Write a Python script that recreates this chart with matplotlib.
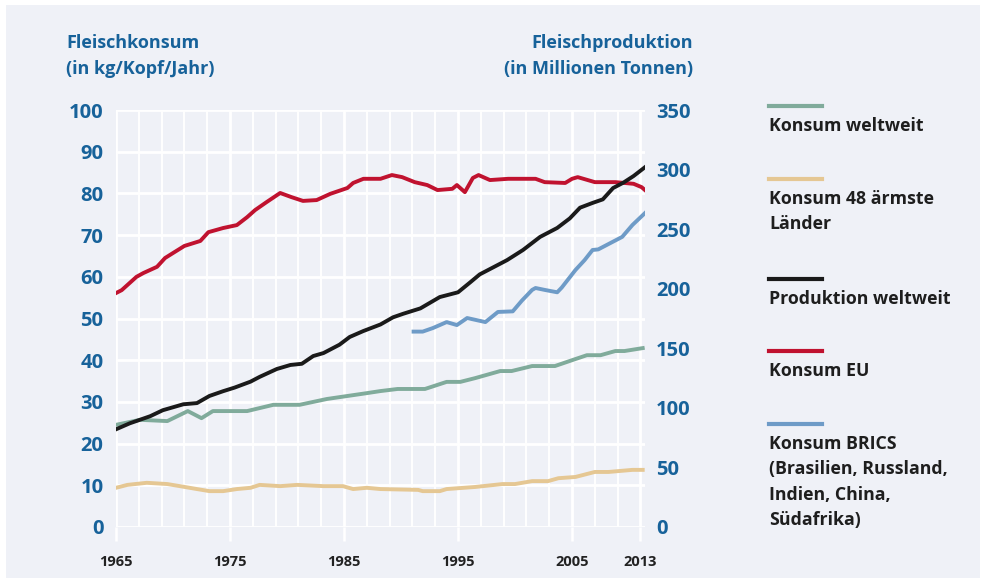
import matplotlib.pyplot as plt
from matplotlib.lines import Line2D
from matplotlib.patches import Rectangle

plt.rcParams['font.family'] = ['Open Sans', 'DejaVu Sans']

# Konsum EU (kg/Kopf/Jahr)
eu_years = [1965, 1965.5, 1966.8, 1967.4, 1968.6, 1969.3, 1970, 1971, 1972.4, 1973.1,
            1974.4, 1975.6, 1976.5, 1977.2, 1978.2, 1979.4, 1980.4, 1981.4, 1982.6, 1983.8,
            1985.3, 1985.8, 1986.7, 1988.2, 1989.2, 1990.1, 1991.2, 1992.3, 1993.2, 1994.5,
            1994.9, 1995.6, 1996.3, 1996.8, 1997.8, 1999.4, 2001.8, 2002.6, 2004.4, 2005,
            2005.5, 2006, 2007, 2008.8, 2010.4, 2011.1, 2011.4]
eu_values = [56.1, 56.8, 60.0, 60.9, 62.4, 64.5, 65.7, 67.4, 68.6, 70.7,
             71.7, 72.4, 74.3, 76.0, 77.9, 80.1, 79.1, 78.2, 78.4, 79.9,
             81.3, 82.5, 83.5, 83.5, 84.4, 83.9, 82.7, 82.0, 80.8, 81.1,
             82.0, 80.3, 83.7, 84.4, 83.2, 83.5, 83.5, 82.7, 82.5, 83.5,
             83.9, 83.5, 82.7, 82.7, 82.3, 81.5, 80.8]

# Produktion weltweit (Mio. t)
prod_years = [1965, 1966.2, 1968, 1969.1, 1970.9, 1972.1, 1973.2, 1974.4, 1975.4, 1976.8,
              1977.6, 1979.1, 1980.3, 1981.3, 1982.3, 1983.2, 1984.6, 1985.5, 1986.7, 1988.2,
              1989.3, 1990.2, 1991.7, 1993.4, 1995, 1996.1, 1996.9, 1998.1, 1999.3, 2000.7,
              2002.2, 2003.7, 2004.8, 2005.7, 2006.8, 2007.7, 2008.6, 2009.5, 2010.4, 2011.4]
prod_values = [82, 87, 93, 98, 103, 104, 110, 114, 117, 122,
               126, 132.6, 136, 137, 143.5, 146, 153, 159.5, 164.5, 170,
               176, 179, 183.5, 193, 197, 205.6, 212, 218, 224, 232.5,
               243.5, 251, 259, 268, 272, 275, 284.5, 289, 294.6, 302]

# Konsum BRICS (Mio. t, rechte Achse)
brics_years = [1991.1, 1991.9, 1992.8, 1994, 1994.9, 1995.8, 1997.4, 1998.5, 1999.8, 2000.6,
               2001.5, 2001.8, 2002.6, 2003.7, 2004.1, 2005.3, 2006.1, 2006.8, 2007.3, 2008.5,
               2009.4, 2010.3, 2011.4]
brics_values = [164, 164, 167, 172, 169.5, 175.4, 172, 180.5, 181, 190,
                199, 200.6, 199, 197, 201, 215.7, 224, 232.5, 233, 239,
                243.5, 253.5, 263.5]

# Konsum weltweit (kg/Kopf/Jahr)
world_years = [1965, 1967.1, 1969.5, 1971.3, 1972.5, 1973.5, 1976.5, 1978.8, 1981.1, 1983.5,
               1987, 1988.2, 1989.7, 1992.1, 1994, 1995.2, 1996.5, 1998.7, 1999.7, 2001.5,
               2003.5, 2005, 2006.3, 2007.5, 2008.8, 2009.6, 2011.2]
world_values = [24.5, 25.7, 25.4, 27.8, 26.1, 27.8, 27.8, 29.3, 29.3, 30.7,
                32.1, 32.6, 33.1, 33.1, 34.8, 34.8, 35.7, 37.4, 37.4, 38.6,
                38.6, 40.0, 41.2, 41.2, 42.2, 42.2, 42.9]

# Konsum 48 ärmste Länder (kg/Kopf/Jahr)
poor_years = [1965, 1966, 1967.7, 1969.5, 1970.6, 1972.1, 1973.2, 1974.4, 1975.6, 1976.8,
              1977.6, 1979.4, 1980.9, 1983.2, 1984.9, 1985.8, 1987, 1988.2, 1991.5, 1991.9,
              1993.4, 1994, 1996.5, 1998.9, 2000, 2001.5, 2002.9, 2003.8, 2005.3, 2007,
              2008.2, 2010.3, 2011.2]
poor_values = [9.4, 10.1, 10.6, 10.3, 9.8, 9.1, 8.6, 8.6, 9.1, 9.4,
               10.1, 9.8, 10.1, 9.8, 9.8, 9.1, 9.4, 9.1, 8.9, 8.6,
               8.6, 9.1, 9.6, 10.3, 10.3, 11.0, 11.0, 11.7, 12.0, 13.2,
               13.2, 13.7, 13.7]

# x-axis ticks as printed (last tick sits at 2011 position, labelled 2013)
xtick_pos = [1965, 1975, 1985, 1995, 2005, 2011]
xtick_labels = ['1965', '1975', '1985', '1995', '2005', '2013']
minor_pos = [1967, 1969, 1971, 1973, 1977, 1979, 1981, 1983, 1987, 1989, 1991, 1993,
             1997, 1999, 2001, 2003, 2007, 2009]
left_ticks = list(range(0, 101, 10))
right_ticks = list(range(0, 351, 50))

legend_names = ['Konsum weltweit', 'Konsum 48 ärmste\nLänder', 'Produktion weltweit',
                'Konsum EU', 'Konsum BRICS\n(Brasilien, Russland,\nIndien, China,\nSüdafrika)']

c_world = '#80ab9b'
c_poor = '#e5c793'
c_prod = '#1a1a1a'
c_eu = '#c0122f'
c_brics = '#6e9bc7'
legend_colors = [c_world, c_poor, c_prod, c_eu, c_brics]
blue_txt = '#17629a'
bg = '#eff1f7'

W, H = 986, 583
fig = plt.figure(figsize=(W / 100, H / 100), dpi=100, facecolor='white')
fig.add_artist(Rectangle((6 / W, 5 / H), 974 / W, 573 / H, transform=fig.transFigure,
                         facecolor=bg, edgecolor='none', zorder=-10))

ax = fig.add_axes([116 / W, 56 / H, 529 / W, 417 / H])
ax.set_facecolor(bg)
ax.set_xlim(1965, 2011.4)
ax.set_ylim(0, 100)
for s in ax.spines.values():
    s.set_visible(False)

ax.set_yticks(left_ticks)
ax.set_xticks(xtick_pos)
ax.set_xticklabels(xtick_labels)
ax.set_xticks(minor_pos, minor=True)
ax.grid(axis='y', color='white', linewidth=2.0, zorder=0)
ax.grid(axis='x', which='major', color='white', linewidth=2.0, zorder=0)
ax.grid(axis='x', which='minor', color='white', linewidth=1.4, zorder=0)
ax.set_axisbelow(True)
ax.tick_params(axis='y', length=0, pad=9, labelsize=14.5, labelcolor=blue_txt)
ax.tick_params(axis='x', which='major', length=10, width=1.8, color='white', pad=10,
               labelsize=10.5, labelcolor='#222222')
ax.tick_params(axis='x', which='minor', length=0)
for lab in ax.get_yticklabels() + ax.get_xticklabels():
    lab.set_fontweight('bold')

lw = 2.8
ax.plot(poor_years, poor_values, color=c_poor, lw=lw, solid_joinstyle='round', zorder=3)
ax.plot(world_years, world_values, color=c_world, lw=lw, solid_joinstyle='round', zorder=3)
ax.plot(eu_years, eu_values, color=c_eu, lw=lw, solid_joinstyle='round', zorder=3)

ax2 = ax.twinx()
ax2.set_ylim(0, 350)
ax2.patch.set_visible(False)
for s in ax2.spines.values():
    s.set_visible(False)
ax2.set_yticks(right_ticks)
ax2.tick_params(axis='y', length=0, pad=8, labelsize=14.5, labelcolor=blue_txt)
for lab in ax2.get_yticklabels():
    lab.set_fontweight('bold')
ax2.plot(prod_years, prod_values, color=c_prod, lw=lw, solid_joinstyle='round', zorder=3)
ax2.plot(brics_years, brics_values, color=c_brics, lw=lw, solid_joinstyle='round', zorder=3)

# axis titles
fig.text(66 / W, 1 - 56 / H, 'Fleischkonsum\n(in kg/Kopf/Jahr)', ha='left', va='center',
         fontsize=13, fontweight='bold', color=blue_txt, linespacing=1.55)
fig.text(693 / W, 1 - 56 / H, 'Fleischproduktion\n(in Millionen Tonnen)', ha='right', va='center',
         fontsize=13, fontweight='bold', color=blue_txt, linespacing=1.55)

# legend
legend_line_y = [106, 179, 279, 351, 424]
for name, col, ly in zip(legend_names, legend_colors, legend_line_y):
    fig.add_artist(Line2D([769 / W, 822 / W], [1 - ly / H, 1 - ly / H], color=col,
                          lw=3, transform=fig.transFigure))
    fig.text(769 / W, 1 - (ly + 11) / H, name, ha='left', va='top', fontsize=12.8,
             fontweight='bold', color='#1e1e1e', linespacing=1.53)

fig.savefig('out.png', dpi=100, facecolor=fig.get_facecolor())
